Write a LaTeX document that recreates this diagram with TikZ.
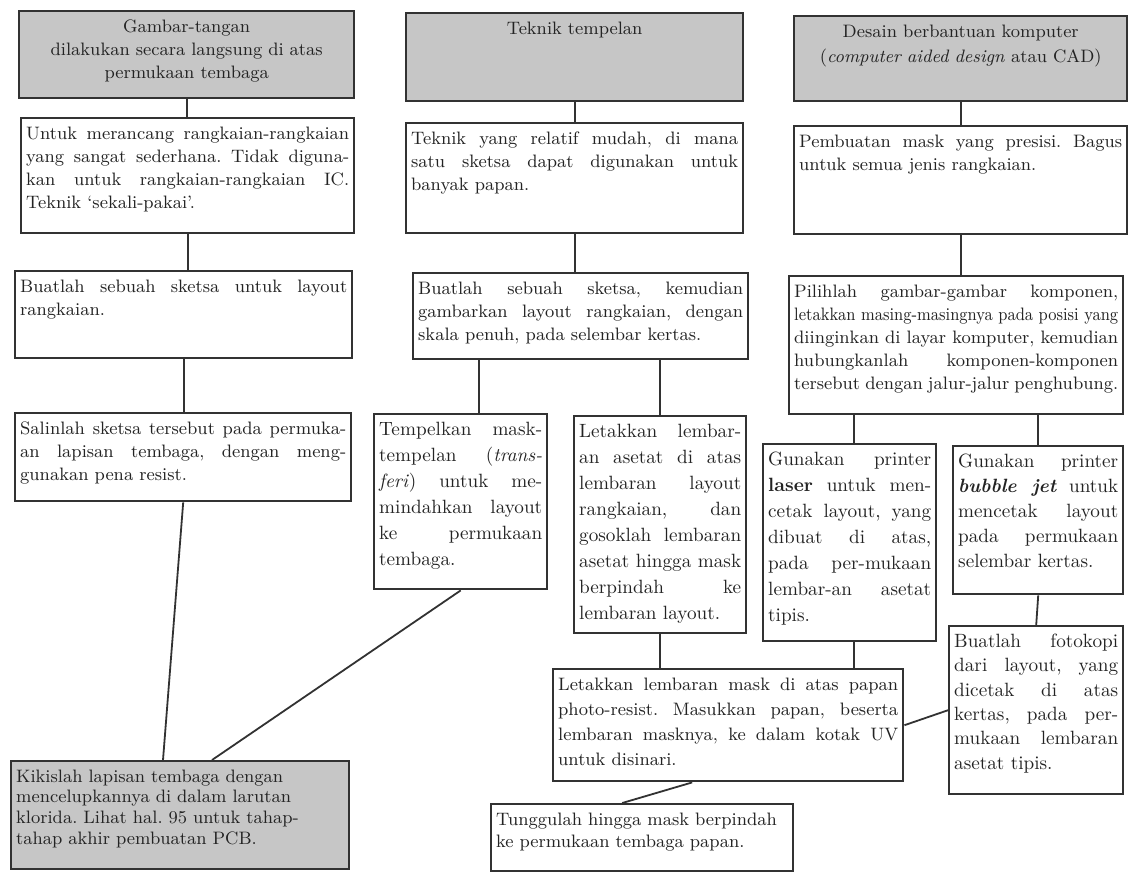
\documentclass[tikz,border=0pt]{standalone}
\usepackage{fontspec}
\usepackage{graphicx}
\definecolor{boxGray}{RGB}{198,198,198}
\definecolor{lineInk}{RGB}{50,50,50}
\definecolor{textInk}{RGB}{35,35,35}
\newcommand{\boxtol}{\tolerance=10000\hbadness=10000\frenchspacing\relax}
\newcommand{\boxfont}{\fontsize{9}{11.5}\selectfont\boxtol}
\newcommand{\squeezeline}[1]{\resizebox{\linewidth}{\height}{#1}}
\tikzset{
  box/.style={draw=lineInk, line width=1.2pt, fill=white, text=textInk, anchor=north west, inner xsep=2.5pt, inner ysep=2.5pt, text height=8pt, align=justify, font=\boxfont},
  headbox/.style={box, fill=boxGray, align=center},
  endbox/.style={box, fill=boxGray, align=left},
  plainbox/.style={box, align=left},
  lead/.style={font=\fontsize{9}{#1}\selectfont\boxtol},
  narrow/.style={font=\fontsize{9.6}{#1}\selectfont\boxtol},
  link/.style={draw=lineInk, line width=0.9pt}
}

\begin{document}
\begin{tikzpicture}[x=0.5pt, y=-0.5pt]
  \useasboundingbox (0,0) rectangle (1128,875);

  % kolom kiri: gambar tangan
  \node[headbox, text width=162.5pt, text depth=30.5pt] (ha) at (18,10) {Gambar-tangan\\dilakukan secara langsung di atas\\permukaan tembaga};
  \node[box, text width=161.5pt, text depth=44.5pt] (a1) at (20,117) {Untuk merancang rangkaian-rangkaian\linebreak yang sangat sederhana. Tidak diguna-\linebreak kan untuk rangkaian-rangkaian IC.\linebreak Teknik `sekali-pakai'.};
  \node[box, text width=163.5pt, text depth=30.5pt] (a2) at (14,270) {Buatlah sebuah sketsa untuk layout\linebreak rangkaian.};
  \node[box, text width=163pt, text depth=31pt] (a3) at (14,412) {Salinlah sketsa tersebut pada permuka-\linebreak an lapisan tembaga, dengan meng-\linebreak gunakan pena resist.};
  \node[endbox, lead=10.3pt, text width=164pt, text depth=41pt] (k) at (10,760) {Kikislah lapisan tembaga dengan\\mencelupkannya di dalam larutan\\klorida. Lihat hal. 95 untuk tahap-\\tahap akhir pembuatan PCB.};

  % kolom tengah: teknik tempelan
  \node[headbox, text width=163.5pt, text depth=31pt] (hb) at (405,12) {Teknik tempelan};
  \node[box, text width=163.5pt, text depth=42pt] (b1) at (405,122) {Teknik yang relatif mudah, di mana\linebreak satu sketsa dapat digunakan untuk\linebreak banyak papan.};
  \node[box, text width=162.5pt, text depth=30pt] (b2) at (412,272) {Buatlah sebuah sketsa, kemudian\linebreak gambarkan layout rangkaian, dengan\linebreak skala penuh, pada selembar kertas.};
  \node[box, narrow=13pt, text width=81.5pt, text depth=74.5pt] (b3) at (373,413) {Tempelkan mask-\linebreak tempelan (\textit{trans-}\linebreak \textit{feri}) untuk me-\linebreak mindahkan layout\linebreak ke permukaan\linebreak tembaga.};
  \node[box, narrow=13pt, text width=81pt, text depth=95.5pt] (b4) at (573,415) {Letakkan lembar-\linebreak an asetat di atas\linebreak lembaran layout\linebreak rangkaian, dan\linebreak gosoklah lembaran\linebreak asetat hingga mask\linebreak berpindah ke\linebreak lembaran layout.};

  % kolom kanan: CAD
  \node[headbox, lead=12.5pt, text width=161.5pt, text depth=29.5pt] (hc) at (793,15) {Desain berbantuan komputer\\(\textit{computer aided design} atau CAD)};
  \node[box, text width=161.5pt, text depth=41pt] (c1) at (793,125) {Pembuatan mask yang presisi. Bagus\linebreak untuk semua jenis rangkaian.};
  \node[box, text width=162pt, text depth=56pt] (c2) at (788,275) {Pilihlah gambar-gambar komponen,\linebreak \squeezeline{letakkan masing-masingnya pada posisi yang}\linebreak diinginkan di layar komputer, kemudian\linebreak hubungkanlah komponen-komponen\linebreak tersebut dengan jalur-jalur penghubung.};
  \node[box, narrow=13pt, text width=81.5pt, text depth=85.5pt] (c3) at (762,443) {Gunakan printer\linebreak \textbf{laser} untuk men-\linebreak cetak layout, yang\linebreak dibuat di atas,\linebreak pada per-mukaan\linebreak lembar-an asetat\linebreak tipis.};
  \node[box, narrow=12.5pt, text width=80pt, text depth=61pt] (c4) at (952,445) {Gunakan printer\linebreak \textbf{\textit{bubble jet}} untuk\linebreak mencetak layout\linebreak pada permukaan\linebreak selembar kertas.};
  \node[box, narrow=12.2pt, text width=82pt, text depth=71pt] (c5) at (948,625) {Buatlah fotokopi\linebreak dari layout, yang\linebreak dicetak di atas\linebreak kertas, pada per-\linebreak mukaan lembaran\linebreak asetat tipis.};

  % langkah bersama
  \node[box, lead=12.5pt, text width=170pt, text depth=43pt] (m) at (552,668) {Letakkan lembaran mask di atas papan\linebreak photo-resist. Masukkan papan, beserta\linebreak lembaran masknya, ke dalam kotak UV\linebreak untuk disinari.};
  \node[plainbox, lead=11pt, text width=146pt, text depth=20.5pt] (n) at (490,803) {Tunggulah hingga mask berpindah\\ke permukaan tembaga papan.};

  % garis penghubung
  \draw[link] (ha.south) -- (ha.south |- a1.north);
  \draw[link] (a1.south) -- (a1.south |- a2.north);
  \draw[link] (a2.south) -- (a2.south |- a3.north);
  \draw[link] (a3.south) -- ([xshift=76.5pt]k.north west);
  \draw[link] (b3.south) -- ([xshift=101pt]k.north west);
  \draw[link] (hb.south) -- (hb.south |- b1.north);
  \draw[link] (b1.south) -- (b1.south |- b2.north);
  \coordinate (b3top) at ([xshift=9pt]b3.north);
  \draw[link] (b3top) -- (b3top |- b2.south);
  \draw[link] (b4.north) -- (b4.north |- b2.south);
  \draw[link] (b4.south) -- (b4.south |- m.north);
  \draw[link] (hc.south) -- (hc.south |- c1.north);
  \draw[link] (c1.south) -- (c1.south |- c2.north);
  \coordinate (c3mid) at ([xshift=2pt]c3.north);
  \draw[link] (c3mid) -- (c3mid |- c2.south);
  \draw[link] (c4.north) -- (c4.north |- c2.south);
  \draw[link] (c4.south) -- (c5.north);
  \coordinate (c3low) at ([xshift=2pt]c3.south);
  \draw[link] (c3low) -- (c3low |- m.north);
  \draw[link] (m.east) -- (c5.west);
  \draw[link] ([xshift=-18pt]m.south) -- ([xshift=-10pt]n.north);
\end{tikzpicture}
\end{document}
